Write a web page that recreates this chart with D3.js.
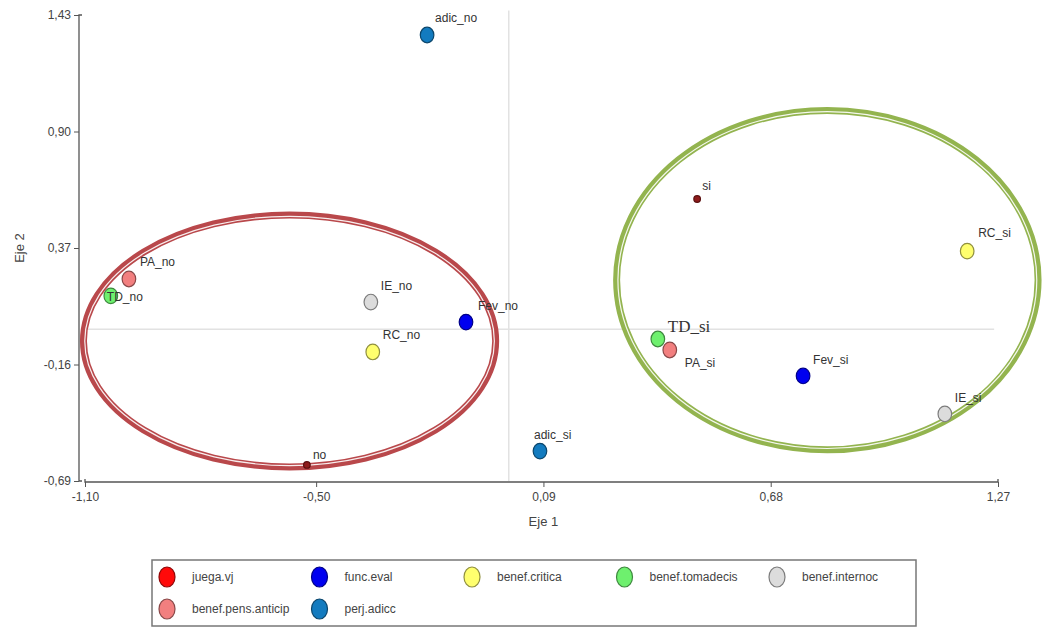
<!DOCTYPE html>
<html>
<head>
<meta charset="utf-8">
<script src="https://cdn.jsdelivr.net/npm/d3@7"></script>
<style>
  html, body { margin: 0; padding: 0; background: #fff; }
  svg text { font-family: "Liberation Sans Narrow", "Arial Narrow", "Liberation Sans", Arial, sans-serif; fill: #333; }
</style>
</head>
<body>
<svg id="chart" width="1044" height="628"></svg>
<script>
// ---- Data ----
const pointNames  = ["adic_no","si","RC_si","PA_no","TD_no","IE_no","Fev_no","RC_no","no","TD_si","PA_si","Fev_si","IE_si","adic_si"];
const pointX      = [-0.212, 0.489, 1.190, -0.986, -1.033, -0.358, -0.111, -0.353, -0.524, 0.387, 0.418, 0.764, 1.132, 0.081];
const pointY      = [ 1.339, 0.593, 0.356,  0.229,  0.152,  0.124,  0.033, -0.103, -0.617, -0.044, -0.094, -0.212, -0.385, -0.554];
const pointGroup  = ["perj.adicc","juega.vj","benef.critica","benef.pens.anticip","benef.tomadecis","benef.internoc","func.eval","benef.critica","juega.vj","benef.tomadecis","benef.pens.anticip","func.eval","benef.internoc","perj.adicc"];

const legendNames = ["juega.vj","func.eval","benef.critica","benef.tomadecis","benef.internoc","benef.pens.anticip","perj.adicc"];
const legendFills = ["#ff0a0a","#0000f0","#ffff6e","#6ef06e","#dcdcdc","#f27f7f","#137bbf"];

const xTicks = [-1.10, -0.50, 0.09, 0.68, 1.27];
const yTicks = [-0.69, -0.16, 0.37, 0.90, 1.43];

// ellipses: center x, center y, radius x, radius y (data units)
const ellipseNames = ["no", "si"];
const ellipseCX = [-0.569, 0.827];
const ellipseCY = [-0.053, 0.224];
const ellipseRX = [0.535, 0.547];
const ellipseRY = [0.573, 0.772];
const ellipseColors = ["#b9484b", "#93b44f"];

// ---- Layout ----
const svg = d3.select("#chart");
const x = d3.scaleLinear().domain([-1.10, 1.27]).range([85, 998]);
const y = d3.scaleLinear().domain([-0.69, 1.43]).range([481, 15]);
const fmt = v => d3.format(".2f")(v).replace(".", ",").replace("−", "-");

const colorOf = d3.scaleOrdinal().domain(legendNames).range(legendFills);

// reference lines at 0
svg.append("line").attr("x1", x(-1.10)).attr("x2", x(1.26)).attr("y1", y(0)).attr("y2", y(0))
  .attr("stroke", "#e2e2e2").attr("stroke-width", 1.5);
svg.append("line").attr("x1", x(0)).attr("x2", x(0)).attr("y1", y(1.45)).attr("y2", y(-0.69))
  .attr("stroke", "#e2e2e2").attr("stroke-width", 1.5);

// axes
const xAxis = d3.axisBottom(x).tickValues(xTicks).tickFormat(fmt).tickSizeOuter(0).tickSize(5).tickPadding(5);
const gx = svg.append("g").attr("transform", `translate(0,${y(-0.69) + 1})`).call(xAxis);
const yAxis = d3.axisLeft(y).tickValues(yTicks).tickFormat(fmt).tickSizeOuter(0).tickSize(5).tickPadding(3);
const gy = svg.append("g").attr("transform", `translate(${x(-1.10) - 6},0)`).call(yAxis);
[gx, gy].forEach(g => {
  g.select(".domain").attr("stroke", "#555").attr("stroke-width", 1.3);
  g.selectAll(".tick line").attr("stroke", "#555");
  g.selectAll(".tick text").attr("font-size", 12).style("fill", "#444")
    .style("font-family", '"Liberation Sans Narrow", "Arial Narrow", "Liberation Sans", Arial, sans-serif');
});
gx.select(".domain").attr("d", `M${x(-1.10)},-3V0H${x(1.27)}V-3`);
gy.select(".domain").attr("d", `M3,${y(1.43)}H0V${y(-0.69)}H3`);

svg.append("text").attr("x", x(0.09)).attr("y", 526).attr("text-anchor", "middle")
  .attr("font-size", 13).style("fill", "#444").text("Eje 1");
svg.append("text").attr("transform", `translate(24,${y(0.37)}) rotate(-90)`).attr("text-anchor", "middle")
  .attr("font-size", 13).style("fill", "#444").text("Eje 2");

// ellipses (double line look)
ellipseNames.forEach((n, i) => {
  const cx = x(ellipseCX[i]), cy = y(ellipseCY[i]);
  const rx = x(ellipseRX[i]) - x(0), ry = y(0) - y(ellipseRY[i]);
  svg.append("ellipse").attr("cx", cx).attr("cy", cy).attr("rx", rx).attr("ry", ry)
    .attr("fill", "none").attr("stroke", ellipseColors[i]).attr("stroke-width", 7);
  svg.append("ellipse").attr("cx", cx).attr("cy", cy).attr("rx", rx - 1.3).attr("ry", ry - 1.3)
    .attr("fill", "none").attr("stroke", "#ffffff").attr("stroke-width", 1.2).attr("opacity", 0.9);
});

// points
const pts = pointNames.map((n, i) => ({ name: n, x: pointX[i], y: pointY[i], group: pointGroup[i] }));
const isSmall = d => d.name === "si" || d.name === "no";

svg.append("g").selectAll("ellipse").data(pts).join("ellipse")
  .attr("cx", d => x(d.x)).attr("cy", d => y(d.y))
  .attr("rx", d => isSmall(d) ? 3.3 : 6.8).attr("ry", d => isSmall(d) ? 3.3 : 7.8)
  .attr("fill", d => isSmall(d) ? "#8e1b1b" : colorOf(d.group))
  .attr("stroke", d => isSmall(d) ? "#5a0f0f" : d3.color(colorOf(d.group)).darker(1.6))
  .attr("stroke-width", 1.2);

// labels: per-label layout offsets
const labelOffset = {
  "adic_no": [8, -17], "si": [5, -13], "RC_si": [11, -18], "PA_no": [11, -17], "TD_no": [-4, 1],
  "IE_no": [10, -16], "Fev_no": [12, -16], "RC_no": [10, -17], "no": [6, -10], "TD_si": [10, -11],
  "PA_si": [15, 13], "Fev_si": [10, -16], "IE_si": [10, -16], "adic_si": [-6, -16]
};
svg.append("g").selectAll("text").data(pts).join("text")
  .attr("x", d => x(d.x) + labelOffset[d.name][0])
  .attr("y", d => y(d.y) + labelOffset[d.name][1] + 4)
  .attr("font-size", d => d.name === "TD_si" ? 17 : 12)
  .style("font-family", d => d.name === "TD_si" ? '"Liberation Serif", "Times New Roman", serif' : null)
  .style("fill", "#333")
  .text(d => d.name);

// legend
const lg = svg.append("g");
lg.append("rect").attr("x", 152).attr("y", 560).attr("width", 764).attr("height", 66)
  .attr("fill", "#fff").attr("stroke", "#777").attr("stroke-width", 1.5);
const colW = 152.5;
legendNames.forEach((n, i) => {
  const row = Math.floor(i / 5), col = i % 5;
  const cx = 167 + col * colW, cy = 577 + row * 32;
  lg.append("ellipse").attr("cx", cx).attr("cy", cy).attr("rx", 8).attr("ry", 10)
    .attr("fill", legendFills[i]).attr("stroke", d3.color(legendFills[i]).darker(1.6)).attr("stroke-width", 1.2);
  lg.append("text").attr("x", cx + 25).attr("y", cy + 4).attr("font-size", 12).style("fill", "#444").text(n);
});
</script>
</body>
</html>
